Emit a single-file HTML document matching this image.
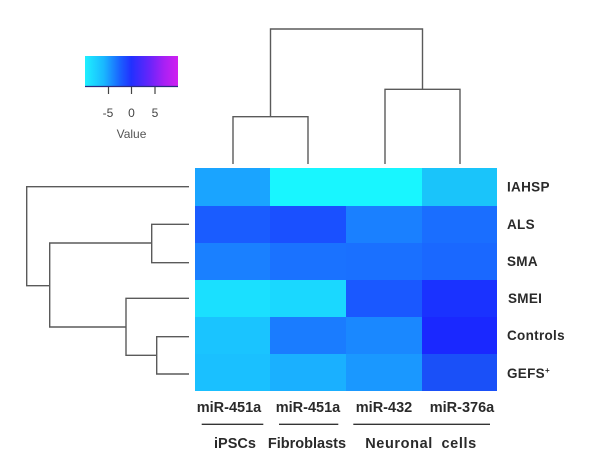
<!DOCTYPE html>
<html><head><meta charset="utf-8"><style>
html,body{margin:0;padding:0;background:#fff;}
svg{display:block;}
text{font-family:"Liberation Sans",Arial,sans-serif;}
</style></head><body>
<svg width="600" height="465" viewBox="0 0 600 465" xmlns="http://www.w3.org/2000/svg">
<defs>
<linearGradient id="cb" x1="0" x2="1" y1="0" y2="0">
<stop offset="0" stop-color="#1ef0ff"/>
<stop offset="0.2" stop-color="#1ab8ff"/>
<stop offset="0.38" stop-color="#1a60ff"/>
<stop offset="0.5" stop-color="#2230ff"/>
<stop offset="0.7" stop-color="#6a24fa"/>
<stop offset="0.85" stop-color="#a820f4"/>
<stop offset="1" stop-color="#d020f0"/>
</linearGradient>
</defs>
<!-- color key -->
<rect x="85" y="56" width="93" height="30" fill="url(#cb)"/>
<line x1="85" y1="86.5" x2="178" y2="86.5" stroke="#2a2a80" stroke-width="1.2"/>
<g stroke="#444" stroke-width="1.2">
<line x1="108.5" y1="87" x2="108.5" y2="94"/>
<line x1="131.5" y1="87" x2="131.5" y2="94"/>
<line x1="155" y1="87" x2="155" y2="94"/>
</g>
<g font-size="12" fill="#444" text-anchor="middle">
<text x="108" y="117">-5</text>
<text x="131.5" y="117">0</text>
<text x="155" y="117">5</text>
<text x="131.5" y="138" fill="#555">Value</text>
</g>
<!-- heatmap -->
<g shape-rendering="crispEdges">
<rect x="195" y="168" width="75" height="38" fill="#1aa4ff"/>
<rect x="270" y="168" width="76" height="38" fill="#18f6ff"/>
<rect x="346" y="168" width="76" height="38" fill="#18f6ff"/>
<rect x="422" y="168" width="75" height="38" fill="#1ac4fa"/>

<rect x="195" y="206" width="75" height="37" fill="#1a5cff"/>
<rect x="270" y="206" width="76" height="37" fill="#1a50ff"/>
<rect x="346" y="206" width="76" height="37" fill="#1a80ff"/>
<rect x="422" y="206" width="75" height="37" fill="#1a6eff"/>

<rect x="195" y="243" width="75" height="37" fill="#1a80ff"/>
<rect x="270" y="243" width="76" height="37" fill="#1a72ff"/>
<rect x="346" y="243" width="76" height="37" fill="#1a70ff"/>
<rect x="422" y="243" width="75" height="37" fill="#1a68ff"/>

<rect x="195" y="280" width="75" height="37" fill="#1ae0ff"/>
<rect x="270" y="280" width="76" height="37" fill="#1ad8ff"/>
<rect x="346" y="280" width="76" height="37" fill="#1a58ff"/>
<rect x="422" y="280" width="75" height="37" fill="#1a32ff"/>

<rect x="195" y="317" width="75" height="37" fill="#1ac4ff"/>
<rect x="270" y="317" width="76" height="37" fill="#1a7cff"/>
<rect x="346" y="317" width="76" height="37" fill="#1a88ff"/>
<rect x="422" y="317" width="75" height="37" fill="#1a28ff"/>

<rect x="195" y="354" width="75" height="37" fill="#1ac0ff"/>
<rect x="270" y="354" width="76" height="37" fill="#1ab0ff"/>
<rect x="346" y="354" width="76" height="37" fill="#1a98ff"/>
<rect x="422" y="354" width="75" height="37" fill="#1a50f8"/>
</g>
<!-- column dendrogram -->
<g stroke="#5a5a5a" stroke-width="1.4" fill="none">
<path d="M233,164 V116.7 H308 V164"/>
<path d="M385,164 V89.3 H460 V164"/>
<path d="M270.5,116.7 V29 H422.5 V89.3"/>
<!-- row dendrogram -->
<path d="M189,186.7 H26.7 V285.7 H49.7"/>
<path d="M189,224.3 H151.7 V262.7 H189"/>
<path d="M151.7,243 H49.7 V327 H126"/>
<path d="M189,298.3 H126 V355.3 H156.7"/>
<path d="M189,336.7 H156.7 V374 H189"/>
</g>
<!-- row labels -->
<g font-size="13.5" font-weight="bold" fill="#2a2a2a" letter-spacing="0.3">
<text x="507" y="191.5">IAHSP</text>
<text x="507" y="229">ALS</text>
<text x="507" y="266">SMA</text>
<text x="508" y="303">SMEI</text>
<text x="507" y="340">Controls</text>
<text x="507" y="378">GEFS<tspan font-size="8" dy="-5">+</tspan></text>
</g>
<!-- column labels -->
<g font-size="14.5" font-weight="bold" fill="#2a2a2a" text-anchor="middle">
<text x="229" y="412">miR-451a</text>
<text x="308" y="412">miR-451a</text>
<text x="384" y="412">miR-432</text>
<text x="462" y="412">miR-376a</text>
<text x="235" y="448">iPSCs</text>
<text x="307" y="448">Fibroblasts</text>
<text x="421" y="448" letter-spacing="0.6" word-spacing="4">Neuronal cells</text>
</g>
<g stroke="#333" stroke-width="1.3">
<line x1="201.7" y1="424.3" x2="263.3" y2="424.3"/>
<line x1="279" y1="424.3" x2="338.3" y2="424.3"/>
<line x1="353.3" y1="424.3" x2="490" y2="424.3"/>
</g>
</svg>
</body></html>
